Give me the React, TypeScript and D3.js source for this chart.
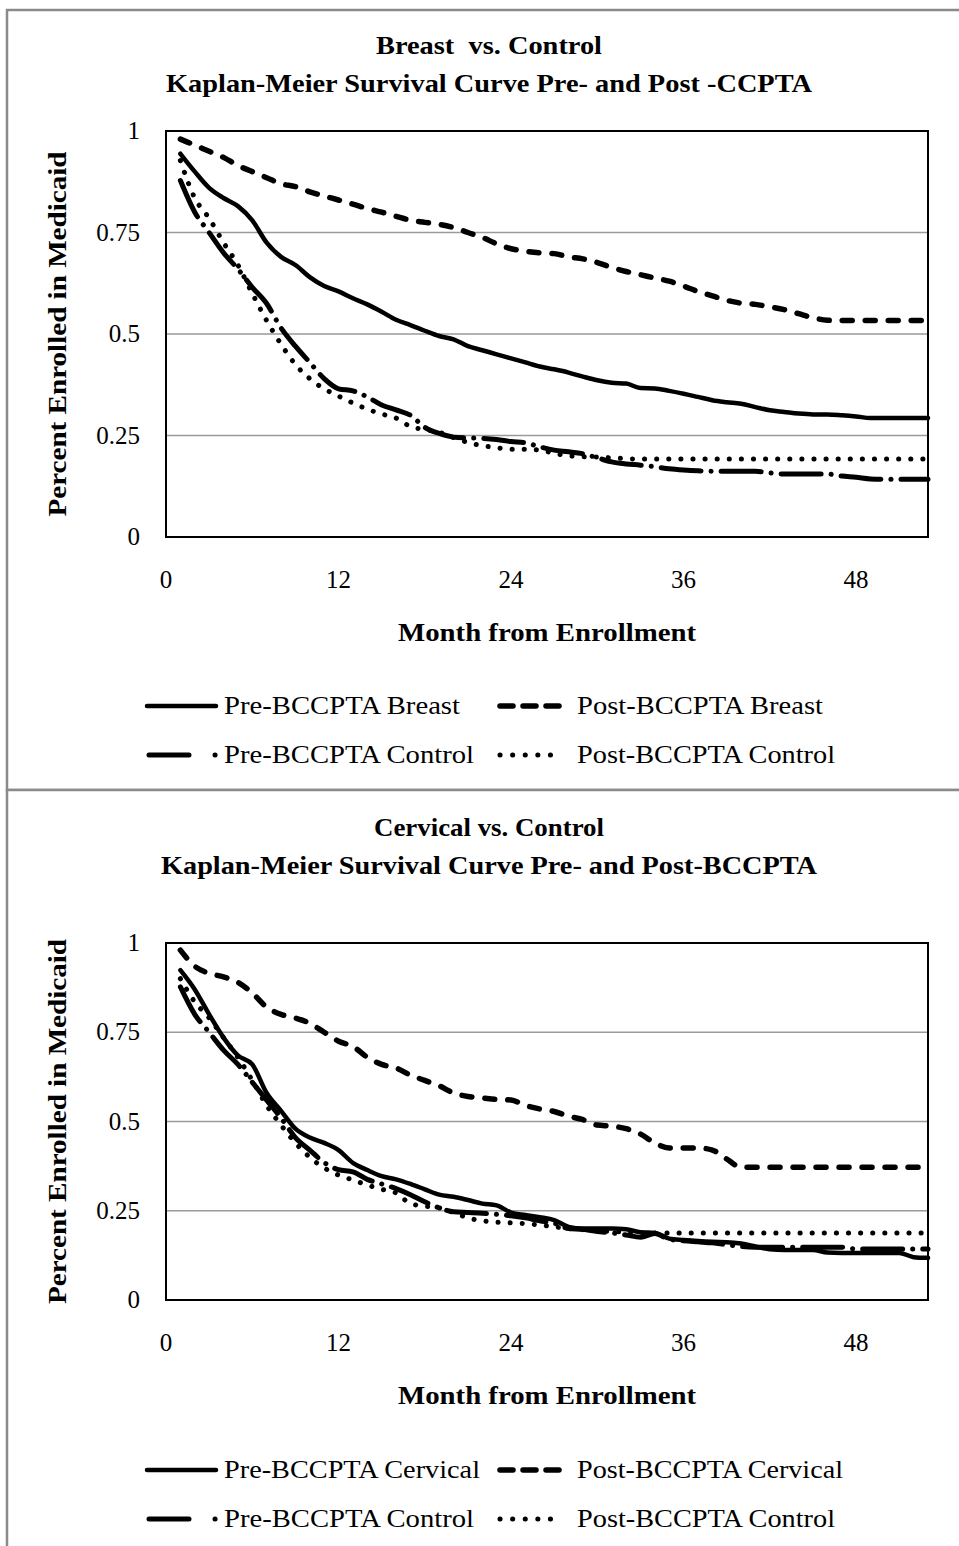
import React from "react";
import * as d3 from "d3";

const MONTHS: number[] = d3.range(1, 54);
const X_TICKS = [0, 12, 24, 36, 48];
const Y_TICKS = [0, 0.25, 0.5, 0.75, 1];
const Y_TICK_LABELS = ["0", "0.25", "0.5", "0.75", "1"];

const preBreast = [0.944,0.90,0.86,0.835,0.815,0.78,0.725,0.69,0.67,0.64,0.618,0.605,0.588,0.573,0.555,0.535,0.522,0.508,0.495,0.487,0.47,0.46,0.45,0.44,0.43,0.42,0.413,0.405,0.395,0.386,0.38,0.378,0.367,0.366,0.36,0.353,0.345,0.337,0.332,0.328,0.32,0.312,0.308,0.304,0.302,0.302,0.30,0.297,0.293,0.293,0.293,0.293,0.293];
const postBreast = [0.98,0.965,0.95,0.935,0.915,0.9,0.885,0.87,0.863,0.85,0.84,0.83,0.82,0.809,0.80,0.79,0.78,0.775,0.77,0.762,0.75,0.738,0.722,0.71,0.704,0.70,0.698,0.69,0.685,0.676,0.664,0.654,0.646,0.638,0.63,0.618,0.605,0.594,0.583,0.576,0.573,0.567,0.56,0.55,0.54,0.534,0.533,0.533,0.533,0.533,0.533,0.533,0.533];
const preControlTop = [0.878,0.80,0.75,0.70,0.66,0.615,0.575,0.515,0.47,0.43,0.39,0.365,0.36,0.345,0.325,0.313,0.30,0.27,0.255,0.246,0.244,0.243,0.24,0.235,0.232,0.222,0.214,0.21,0.205,0.195,0.185,0.18,0.177,0.173,0.168,0.165,0.163,0.162,0.162,0.162,0.162,0.158,0.155,0.155,0.155,0.155,0.15,0.147,0.143,0.142,0.142,0.142,0.142];
const postControlTop = [0.927,0.835,0.785,0.725,0.67,0.60,0.533,0.475,0.425,0.39,0.365,0.347,0.33,0.315,0.303,0.293,0.272,0.265,0.258,0.245,0.233,0.225,0.22,0.216,0.216,0.214,0.206,0.2,0.198,0.197,0.195,0.193,0.192,0.192,0.192,0.192,0.192,0.192,0.192,0.192,0.192,0.192,0.192,0.192,0.192,0.192,0.192,0.192,0.192,0.192,0.192,0.192,0.192];

const preCervical = [0.924,0.87,0.80,0.735,0.685,0.66,0.58,0.53,0.48,0.455,0.44,0.42,0.384,0.364,0.347,0.338,0.325,0.31,0.295,0.289,0.28,0.27,0.265,0.245,0.238,0.232,0.224,0.205,0.20,0.20,0.20,0.198,0.19,0.188,0.172,0.168,0.165,0.163,0.162,0.158,0.15,0.142,0.14,0.14,0.14,0.133,0.132,0.132,0.132,0.132,0.132,0.12,0.118];
const postCervical = [0.98,0.935,0.915,0.905,0.89,0.86,0.82,0.8,0.79,0.775,0.75,0.725,0.71,0.68,0.66,0.65,0.63,0.615,0.6,0.58,0.57,0.566,0.562,0.56,0.545,0.535,0.528,0.515,0.505,0.49,0.487,0.48,0.465,0.44,0.426,0.426,0.426,0.42,0.395,0.372,0.372,0.372,0.372,0.372,0.372,0.372,0.372,0.372,0.372,0.372,0.372,0.372,0.372];
const preControlBottom = [0.877,0.8,0.75,0.70,0.66,0.61,0.56,0.51,0.455,0.42,0.385,0.365,0.359,0.338,0.325,0.312,0.295,0.275,0.258,0.247,0.245,0.243,0.24,0.236,0.23,0.222,0.215,0.2,0.198,0.192,0.188,0.182,0.176,0.186,0.17,0.166,0.163,0.16,0.155,0.15,0.148,0.148,0.148,0.148,0.148,0.148,0.148,0.143,0.143,0.143,0.143,0.143,0.143];
const postControlBottom = [0.9,0.835,0.79,0.735,0.68,0.615,0.545,0.49,0.44,0.4,0.37,0.35,0.336,0.322,0.31,0.30,0.27,0.263,0.258,0.245,0.23,0.222,0.218,0.216,0.214,0.21,0.205,0.2,0.197,0.194,0.192,0.19,0.188,0.188,0.188,0.188,0.188,0.188,0.188,0.188,0.188,0.188,0.188,0.188,0.188,0.188,0.188,0.188,0.188,0.188,0.188,0.188,0.188];

const TOP_SERIES_NAMES = ["Pre-BCCPTA Breast", "Post-BCCPTA Breast", "Pre-BCCPTA Control", "Post-BCCPTA Control"];
const BOTTOM_SERIES_NAMES = ["Pre-BCCPTA Cervical", "Post-BCCPTA Cervical", "Pre-BCCPTA Control", "Post-BCCPTA Control"];

const FONT = "'Liberation Serif', 'Times New Roman', serif";

type Style = { width: number; dash?: string; cap: "round" | "butt"; legendDash?: string };
const STYLES: Style[] = [
  { width: 4.5, cap: "round" },
  { width: 5.5, dash: "10 13", cap: "round", legendDash: "13 10" },
  { width: 5, dash: "40 10 0.1 10", cap: "round", legendDash: "40 26 0.1 200" },
  { width: 5, dash: "0.1 12", cap: "round", legendDash: "0.1 12.5" },
];

type ChartProps = {
  boxTop: number;
  boxHeight: number;
  title1: string;
  title1Len: number;
  title2: string;
  title2Len: number;
  titleY: number;
  plotTop: number;
  plotBottom: number;
  series: number[][];
  names: string[];
  nameLens: number[];
  legendY: number;
};

function Chart(p: ChartProps) {
  const x = d3.scaleLinear().domain([0, 53]).range([166, 928]);
  const y = d3.scaleLinear().domain([0, 1]).range([p.plotBottom, p.plotTop]);
  const line = d3
    .line<number>()
    .x((_, i) => x(MONTHS[i]))
    .y((d) => y(d))
    .curve(d3.curveMonotoneX);
  const midX = (x.range()[0] + x.range()[1]) / 2;
  const midY = (p.plotTop + p.plotBottom) / 2;
  const legendRows = [p.legendY, p.legendY + 49];
  const legendCols = [
    { s0: 147, s1: 216, tx: 224 },
    { s0: 500, s1: 561, tx: 577 },
  ];
  return (
    <g>
      <rect x={7} y={p.boxTop} width={970} height={p.boxHeight} fill="#fff" stroke="#8a8a8a" strokeWidth={2.5} />
      <text x={489} y={p.titleY} textAnchor="middle" fontFamily={FONT} fontWeight="bold" fontSize={26} textLength={p.title1Len} lengthAdjust="spacingAndGlyphs" xmlSpace="preserve">
        {p.title1}
      </text>
      <text x={489} y={p.titleY + 38} textAnchor="middle" fontFamily={FONT} fontWeight="bold" fontSize={26} textLength={p.title2Len} lengthAdjust="spacingAndGlyphs">
        {p.title2}
      </text>
      {Y_TICKS.filter((t) => t > 0 && t < 1).map((t) => (
        <line key={"g" + t} x1={x(0)} x2={x(53)} y1={y(t)} y2={y(t)} stroke="#9a9a9a" strokeWidth={1.5} />
      ))}
      <rect x={x(0)} y={p.plotTop} width={x(53) - x(0)} height={p.plotBottom - p.plotTop} fill="none" stroke="#000" strokeWidth={2} />
      {Y_TICKS.map((t, i) => (
        <text key={"yt" + t} x={140} y={y(t) + 8} textAnchor="end" fontFamily={FONT} fontSize={25}>
          {Y_TICK_LABELS[i]}
        </text>
      ))}
      {X_TICKS.map((t) => (
        <text key={"xt" + t} x={x(t)} y={p.plotBottom + 51} textAnchor="middle" fontFamily={FONT} fontSize={25}>
          {t}
        </text>
      ))}
      <text x={midX} y={p.plotBottom + 104} textAnchor="middle" fontFamily={FONT} fontWeight="bold" fontSize={26} textLength={298} lengthAdjust="spacingAndGlyphs">
        Month from Enrollment
      </text>
      <text transform={`translate(66,${midY}) rotate(-90)`} textAnchor="middle" fontFamily={FONT} fontWeight="bold" fontSize={26} textLength={365} lengthAdjust="spacingAndGlyphs">
        Percent Enrolled in Medicaid
      </text>
      {p.series.map((vals, i) => (
        <path
          key={"s" + i}
          d={line(vals) || ""}
          fill="none"
          stroke="#000"
          strokeWidth={STYLES[i].width}
          strokeDasharray={STYLES[i].dash}
          strokeLinecap={STYLES[i].cap}
          strokeLinejoin="round"
        />
      ))}
      {p.names.map((name, i) => {
        const row = legendRows[Math.floor(i / 2)];
        const col = legendCols[i % 2];
        const st = STYLES[i];
        const ls = i === 2 ? 149 : col.s0;
        const le = i === 2 ? 216 : col.s1;
        return (
          <g key={"l" + i}>
            <line x1={ls} x2={le} y1={row - 8} y2={row - 8} stroke="#000" strokeWidth={st.width} strokeDasharray={st.legendDash} strokeLinecap={st.cap} />
            <text x={col.tx} y={row} fontFamily={FONT} fontSize={25} textLength={p.nameLens[i]} lengthAdjust="spacingAndGlyphs">
              {name}
            </text>
          </g>
        );
      })}
    </g>
  );
}

export default function App() {
  return (
    <svg width={959} height={1546} style={{ position: "absolute", left: 0, top: 0, background: "#fff" }}>
      <Chart
        boxTop={10}
        boxHeight={780}
        title1={"Breast  vs. Control"}
        title1Len={226}
        title2={"Kaplan-Meier Survival Curve Pre- and Post -CCPTA"}
        title2Len={646}
        titleY={54}
        plotTop={131}
        plotBottom={537}
        series={[preBreast, postBreast, preControlTop, postControlTop]}
        names={TOP_SERIES_NAMES}
        nameLens={[236, 246, 250, 258]}
        legendY={714}
      />
      <Chart
        boxTop={790}
        boxHeight={800}
        title1={"Cervical vs. Control"}
        title1Len={230}
        title2={"Kaplan-Meier Survival Curve Pre- and Post-BCCPTA"}
        title2Len={656}
        titleY={836}
        plotTop={943}
        plotBottom={1300}
        series={[preCervical, postCervical, preControlBottom, postControlBottom]}
        names={BOTTOM_SERIES_NAMES}
        nameLens={[256, 266, 250, 258]}
        legendY={1478}
      />
    </svg>
  );
}
